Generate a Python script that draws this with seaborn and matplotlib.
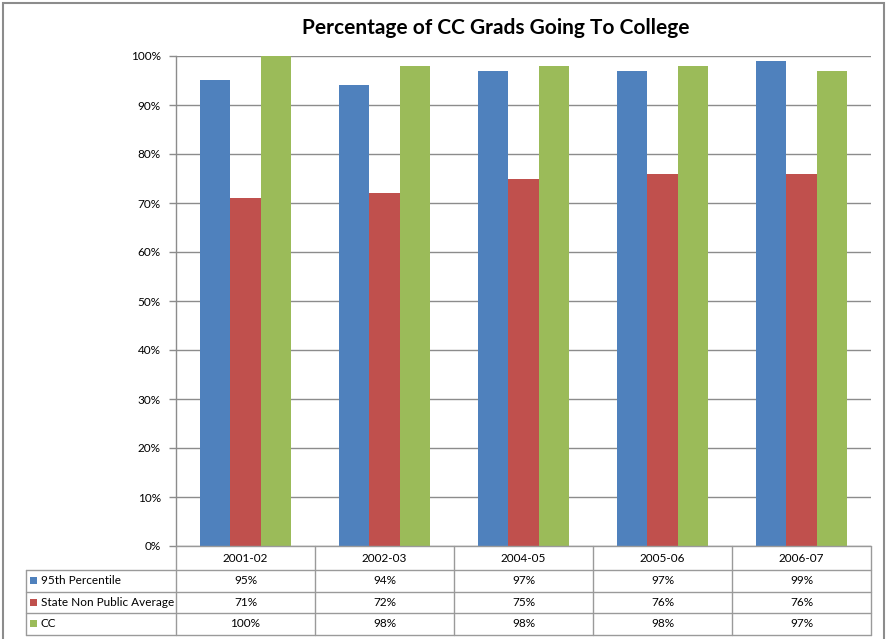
import matplotlib
matplotlib.use("Agg")
import matplotlib.pyplot as plt
from matplotlib.patches import Rectangle
from matplotlib.lines import Line2D
import pandas as pd
import seaborn as sns

# Data
years = ["2001-02", "2002-03", "2004-05", "2005-06", "2006-07"]
series_names = ["95th Percentile", "State Non Public Average", "CC"]
pct_95th = [95, 94, 97, 97, 99]
pct_state = [71, 72, 75, 76, 76]
pct_cc = [100, 98, 98, 98, 97]
colors = ["#4F81BD", "#C0504D", "#9BBB59"]
title = "Percentage of CC Grads Going To College"

values = [pct_95th, pct_state, pct_cc]
df = pd.DataFrame({
    "year": [y for s in series_names for y in years],
    "series": [s for s in series_names for _ in years],
    "pct": [v for vals in values for v in vals],
})

sns.set_theme(style="white")
plt.rcParams["font.family"] = ["Lato", "DejaVu Sans"]

W, H = 887, 639
fig = plt.figure(figsize=(W / 100, H / 100), dpi=100)

def fx(px):
    return px / W

def fy(py):
    return 1 - py / H

left, right, top, bottom = 176, 871, 56, 546
ax = fig.add_axes([fx(left), fy(bottom), fx(right) - fx(left), fy(top) - fy(bottom)])

sns.barplot(data=df, x="year", y="pct", hue="series", palette=colors,
            order=years, hue_order=series_names, width=0.66, gap=0,
            saturation=1, linewidth=0, ax=ax, legend=False)

ax.set_ylim(0, 100)
ax.set_xlim(-0.5, len(years) - 0.5)
ax.set_yticks(range(0, 101, 10))
ax.set_yticklabels([f"{t}%" for t in range(0, 101, 10)], fontsize=8.5, color="#000000")
ax.set_xticks([])
ax.set_xlabel("")
ax.set_ylabel("")
ax.yaxis.grid(True, color="#8C8C8C", linewidth=1.0)
ax.set_axisbelow(True)
ax.tick_params(axis="y", which="both", left=True, length=5, width=1, color="#8C8C8C", pad=6)
for side in ["top", "right", "bottom"]:
    ax.spines[side].set_visible(False)
ax.spines["left"].set_color("#8C8C8C")
ax.spines["left"].set_linewidth(1.0)

# Title
fig.text(fx(496), fy(28), title, ha="center", va="center",
         fontsize=15, fontweight="bold", color="#000000")

# Outer chart border
fig.patches.append(Rectangle((fx(3.5), fy(660)), fx(881), fy(2.5) - fy(660),
                             transform=fig.transFigure, fill=False,
                             edgecolor="#8C8C8C", linewidth=1.5))

# Data table beneath the axis
line_col = "#9A9A9A"
col_edges = [left + (right - left) * i / len(years) for i in range(len(years) + 1)]
row_edges = [bottom, 570, 591.5, 613, 634.5]
table_left = 26

def hline(x0, x1, y):
    fig.lines.append(Line2D([fx(x0), fx(x1)], [fy(y), fy(y)],
                            transform=fig.transFigure, color=line_col, linewidth=1.0))

def vline(x, y0, y1):
    fig.lines.append(Line2D([fx(x), fx(x)], [fy(y0), fy(y1)],
                            transform=fig.transFigure, color=line_col, linewidth=1.0))

hline(left, right, row_edges[0])
for y in row_edges[1:]:
    hline(table_left, right, y)
for x in col_edges:
    vline(x, row_edges[0], row_edges[-1])
vline(table_left, row_edges[1], row_edges[-1])

cell_fs = 8.5
for i, yr in enumerate(years):
    cx = (col_edges[i] + col_edges[i + 1]) / 2
    fig.text(fx(cx), fy((row_edges[0] + row_edges[1]) / 2), yr,
             ha="center", va="center", fontsize=cell_fs, color="#000000")

for r, (name, vals, c) in enumerate(zip(series_names, values, colors)):
    y0, y1 = row_edges[r + 1], row_edges[r + 2]
    cy = (y0 + y1) / 2
    fig.patches.append(Rectangle((fx(30), fy(cy + 3.5)), fx(7), fy(cy - 3.5) - fy(cy + 3.5),
                                 transform=fig.transFigure, facecolor=c, edgecolor="none"))
    fig.text(fx(41), fy(cy), name, ha="left", va="center", fontsize=cell_fs, color="#000000")
    for i, v in enumerate(vals):
        cx = (col_edges[i] + col_edges[i + 1]) / 2
        fig.text(fx(cx), fy(cy), f"{v}%", ha="center", va="center",
                 fontsize=cell_fs, color="#000000")

fig.savefig("out.png", dpi=100, facecolor="white")
